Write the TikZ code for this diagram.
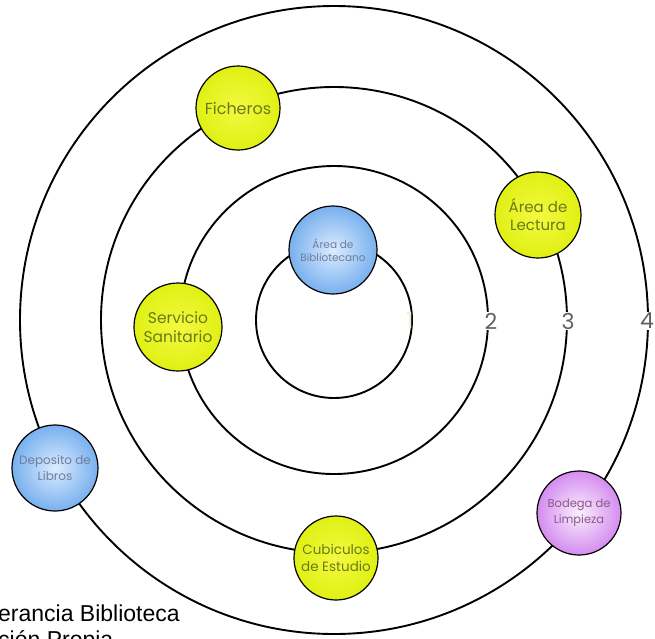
\documentclass[tikz,border=0pt]{standalone}
\usepackage{fontspec}
\setmainfont{Liberation Sans}
\newfontfamily\hand{Poppins}
\definecolor{yin}{HTML}{F2FA40}
\definecolor{yout}{HTML}{E0F014}
\definecolor{ytext}{HTML}{6A7A18}
\definecolor{bin}{HTML}{DCECFF}
\definecolor{bout}{HTML}{78B0EE}
\definecolor{btext}{HTML}{6E7E9C}
\definecolor{pin}{HTML}{FAF0FC}
\definecolor{pout}{HTML}{D48CF0}
\definecolor{ptext}{HTML}{8A5A8A}
\definecolor{numgray}{HTML}{606060}
\definecolor{faint}{HTML}{ECECD2}
\begin{document}
\begin{tikzpicture}[x=1pt,y=-1pt,
  ring/.style={line width=1.9pt, draw=black},
  place/.style={circle, draw=black, line width=1.2pt, minimum size=#1, inner sep=0pt, align=center},
  place/.default=84,
  ynode/.style={place=#1, inner color=yin, outer color=yout, text=ytext},
  bnode/.style={place=#1, inner color=bin, outer color=bout, text=btext},
  pnode/.style={place=#1, inner color=pin, outer color=pout, text=ptext},
  num/.style={font=\hand\fontsize{22}{24}\selectfont, text=numgray, fill=white, inner sep=1pt},
  caption/.style={font=\fontsize{23}{26}\selectfont, anchor=base west, inner sep=0pt}
]
\useasboundingbox (0,0) rectangle (655,638);
\coordinate (c) at (334,320);
\draw[ring] (c) circle (78);
\draw[ring] (c) circle (154);
\draw[ring] (c) circle (233);
\draw[ring] (c) circle (314);

\node[num, text=faint, fill=none] (n1) at (410,321) {1};
\node[num] (n2) at (491,321) {2};
\node[num] (n3) at (568,321) {3};
\node[num] (n4) at (647,321) {4};

\node[ynode=84, font=\hand\fontsize{16}{18}\selectfont] (fich) at (238,108) {Ficheros};
\node[ynode=86, font=\hand\fontsize{15}{18}\selectfont] (lect) at (538,215) {Área de\\Lectura};
\node[bnode=88, font=\hand\fontsize{10.5}{13}\selectfont] (bibl) at (333,250) {Área de\\Bibliotecano};
\node[ynode=88, font=\hand\fontsize{15.5}{19}\selectfont] (serv) at (178,327) {Servicio\\Sanitario};
\node[bnode=86, font=\hand\fontsize{12}{16}\selectfont] (depo) at (55,468) {Deposito de\\Libros};
\node[pnode=84, font=\hand\fontsize{11.5}{16}\selectfont] (bode) at (579,513) {Bodega de\\Limpieza};
\node[ynode=84, font=\hand\fontsize{13.5}{17}\selectfont] (cubi) at (336,558) {Cubiculos\\de Estudio};

\node[caption] (cap1) at (-2,621) {erancia Biblioteca};
\node[caption] (cap2) at (-2,647) {ción Propia};
\end{tikzpicture}
\end{document}
